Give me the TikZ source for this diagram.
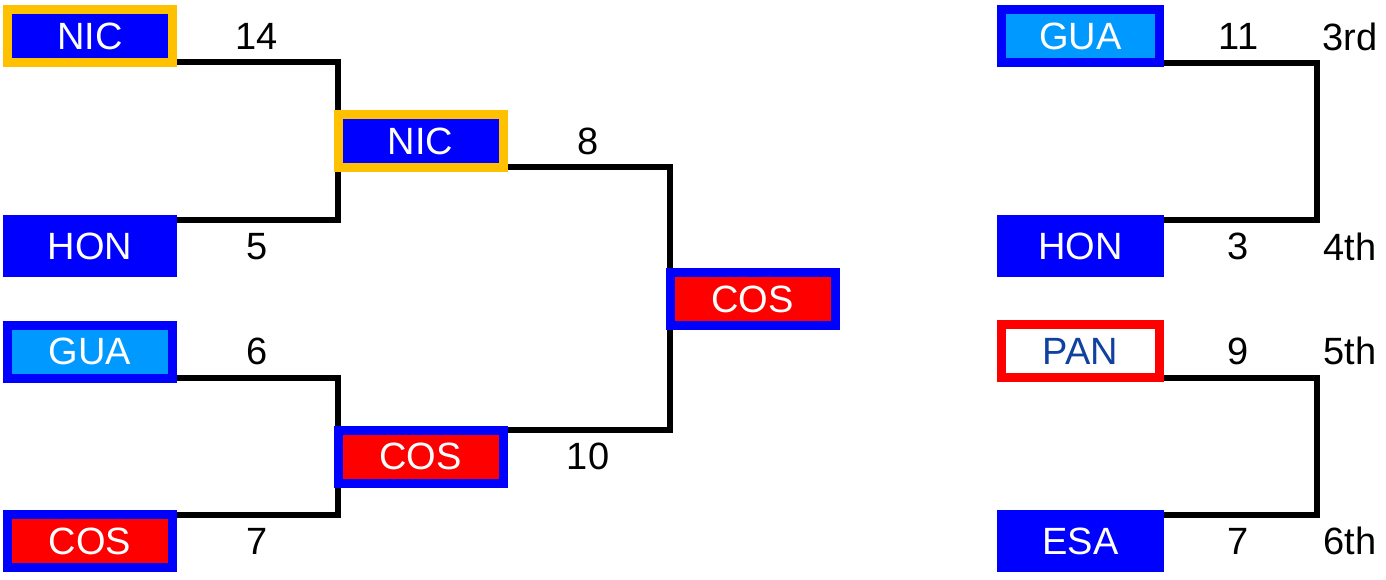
\documentclass[tikz,border=0pt]{standalone}
\usepackage{fontspec}
\setmainfont{Liberation Sans}
\usetikzlibrary{backgrounds}
\definecolor{tblue}{RGB}{0,0,255}
\definecolor{torange}{RGB}{255,192,0}
\definecolor{tlight}{RGB}{0,153,255}
\definecolor{tred}{RGB}{255,0,0}
\definecolor{pantext}{RGB}{16,64,160}
\begin{document}
\begin{tikzpicture}[x=1pt,y=-1pt,
  team/.style={rectangle, line width=9pt, inner sep=0pt, outer sep=0pt,
    minimum width=165pt, minimum height=53pt, text=white,
    font=\fontsize{38}{40}\selectfont},
  teamR/.style={team, minimum width=158pt},
  wire/.style={line width=6pt, draw=black},
  score/.style={inner sep=0pt, text=black, font=\fontsize{38}{40}\selectfont}
]
\useasboundingbox (0,0) rectangle (1386,580);
% left bracket teams
\node[team, draw=torange, fill=tblue] (nicA) at (90,36) {NIC};
\node[team, draw=tblue, fill=tblue] (honA) at (90,246) {HON};
\node[team, draw=tblue, fill=tlight] (guaA) at (90,351.5) {GUA};
\node[team, draw=tblue, fill=tred] (cosA) at (90,541) {COS};
\node[team, draw=torange, fill=tblue] (nicB) at (420.5,141) {NIC};
\node[team, draw=tblue, fill=tred] (cosB) at (420.5,456.5) {COS};
\node[team, draw=tblue, fill=tred] (cosC) at (752.5,299) {COS};
% right placement games
\node[teamR, draw=tblue, fill=tlight] (guaR) at (1080.5,36.5) {GUA};
\node[teamR, draw=tblue, fill=tblue] (honR) at (1080.5,246) {HON};
\node[teamR, draw=tred, fill=white, text=pantext] (panR) at (1080.5,351) {PAN};
\node[teamR, draw=tblue, fill=tblue] (esaR) at (1080.5,541) {ESA};
\coordinate (rx) at (1317,0);
% connectors
\begin{scope}[on background layer]
\draw[wire] (nicA.south east) -| (nicB.west) |- (honA.north east);
\draw[wire] (guaA.south east) -| (cosB.west) |- (cosA.north east);
\draw[wire] (nicB.south east) -| (cosC.west) |- (cosB.north east);
\draw[wire] (guaR.south east) -| (rx |- honR.north east) -- (honR.north east);
\draw[wire] (panR.south east) -| (rx |- esaR.north east) -- (esaR.north east);
\end{scope}
% scores
\node[score] (s1) at (257,36.5) {14};
\node[score] (s2) at (257,246.5) {5};
\node[score] (s3) at (257,351) {6};
\node[score] (s4) at (257,541) {7};
\node[score] (s5) at (588,141.5) {8};
\node[score] (s6) at (588,456.5) {10};
\node[score] (s7) at (1238.5,36.5) {11};
\node[score] (s8) at (1238.5,246.5) {3};
\node[score] (s9) at (1238.5,351) {9};
\node[score] (s10) at (1238.5,541) {7};
% places
\node[score] (p3) at (1350,36.5) {3rd};
\node[score] (p4) at (1350,246.5) {4th};
\node[score] (p5) at (1350,351) {5th};
\node[score] (p6) at (1350,541) {6th};
\end{tikzpicture}
\end{document}
